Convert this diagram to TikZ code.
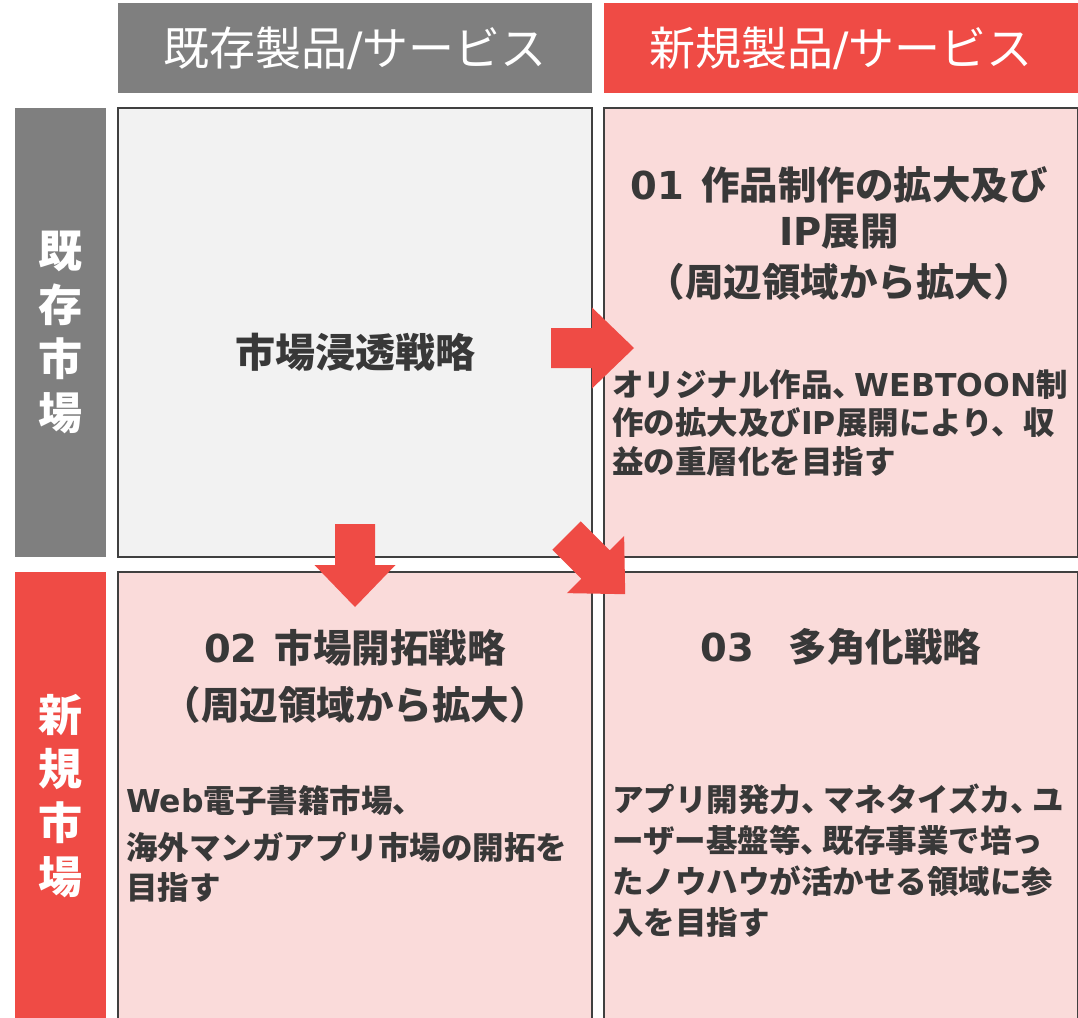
\documentclass[tikz,border=0pt]{standalone}
\usepackage{fontspec}
\setmainfont{Noto Sans CJK JP}
\newfontfamily\lat{DejaVu Sans}
\definecolor{hdgray}{HTML}{7F7F7F}
\definecolor{hdred}{HTML}{EF4B45}
\definecolor{pinkbg}{HTML}{FADBDA}
\definecolor{graybg}{HTML}{F2F2F2}
\definecolor{edgec}{HTML}{404040}
\definecolor{inkc}{HTML}{383838}
\tikzset{
  hdr/.style={fill=#1, draw=none, inner sep=0pt, minimum width=474pt, minimum height=90pt,
    text=white, font=\fontsize{46}{50}\selectfont},
  sidelab/.style={fill=#1, draw=none, inner sep=0pt, minimum width=91pt, minimum height=449pt,
    text=white, align=center, font=\bfseries\fontsize{44}{54}\selectfont},
  quad/.style={fill=#1, draw=edgec, line width=1.5pt, inner sep=0pt, minimum width=474pt, minimum height=449pt},
  ttl/.style={text=inkc, inner sep=0pt, align=center, font=\bfseries\fontsize{38.5}{46}\selectfont},
  bodytxt/.style={text=inkc, inner sep=0pt, align=left, anchor=west, font=\bfseries\fontsize{31.5}{#1}\selectfont},
  blockarrow/.style={fill=hdred, draw=none}
}
\newcommand{\tightcomma}{、\kern-0.3em}
\begin{document}
\begin{tikzpicture}[x=1pt, y=-1pt]
\useasboundingbox (0,0) rectangle (1078,1017);
\clip (0,0) rectangle (1078,1017);
\fill[white] (0,0) rectangle (1078,1017);

% headers
\node[hdr=hdgray] (hexist) at (355,48) {既存製品{\lat /}サービス};
\node[hdr=hdred] (hnew) at (841,48) {新規製品{\lat /}サービス};

% side labels
\node[sidelab=hdgray] (lexist) at (60.5,332.5) {既\\存\\市\\場};
\node[sidelab=hdred] (lnew) at (60.5,796.5) {新\\規\\市\\場};

% quadrants
\node[quad=graybg] (q11) at (355,332.5) {};
\node[quad=pinkbg] (q12) at (841,332.5) {};
\node[quad=pinkbg] (q21) at (355,796.5) {};
\node[quad=pinkbg] (q22) at (841,796.5) {};

% texts
\node[ttl, font=\bfseries\fontsize{40}{46}\selectfont] (t11) at (355,352) {市場浸透戦略};
\node[ttl] (t12) at (839,233.5) {{\lat 01}\hspace{0.45em}作品制作の拡大及び\\{\lat IP}展開\\[5pt]（周辺領域から拡大）};
\node[bodytxt=38.5] (b12) at (612,423) {オリジナル作品\tightcomma{\lat WEBTOON}制\\作の拡大及び{\lat IP}展開により、収\\益の重層化を目指す};

\node[ttl, font=\bfseries\fontsize{38.5}{57}\selectfont] (t21) at (355,676.5) {{\lat 02}\hspace{0.45em}市場開拓戦略\\（周辺領域から拡大）};
\node[bodytxt=40] (b21) at (126,843.5) {{\lat Web}電子書籍市場、\\[7pt]海外マンガアプリ市場の開拓を\\目指す};

\node[ttl] (t22) at (841,647) {{\lat 03}\hspace{0.9em}多角化戦略};
\node[bodytxt=41] (b22) at (612,861) {アプリ開発力\tightcomma マネタイズカ\tightcomma ユ\\ーザー基盤等\tightcomma 既存事業で培っ\\たノウハウが活かせる領域に参\\入を目指す};

% block arrows
\begin{scope}[shift={(551,348)}]
  \fill[blockarrow] (0,-20) -- (41,-20) -- (41,-40.5) -- (83,0) -- (41,40.5) -- (41,20) -- (0,20) -- cycle;
\end{scope}
\begin{scope}[shift={(355,524)}, rotate=-90]
  \fill[blockarrow] (0,-20) -- (41,-20) -- (41,-40.5) -- (83,0) -- (41,40.5) -- (41,20) -- (0,20) -- cycle;
\end{scope}
\begin{scope}[shift={(566.5,535.5)}, rotate=-45]
  \fill[blockarrow] (0,-20) -- (41,-20) -- (41,-40.5) -- (83,0) -- (41,40.5) -- (41,20) -- (0,20) -- cycle;
\end{scope}
\end{tikzpicture}
\end{document}
